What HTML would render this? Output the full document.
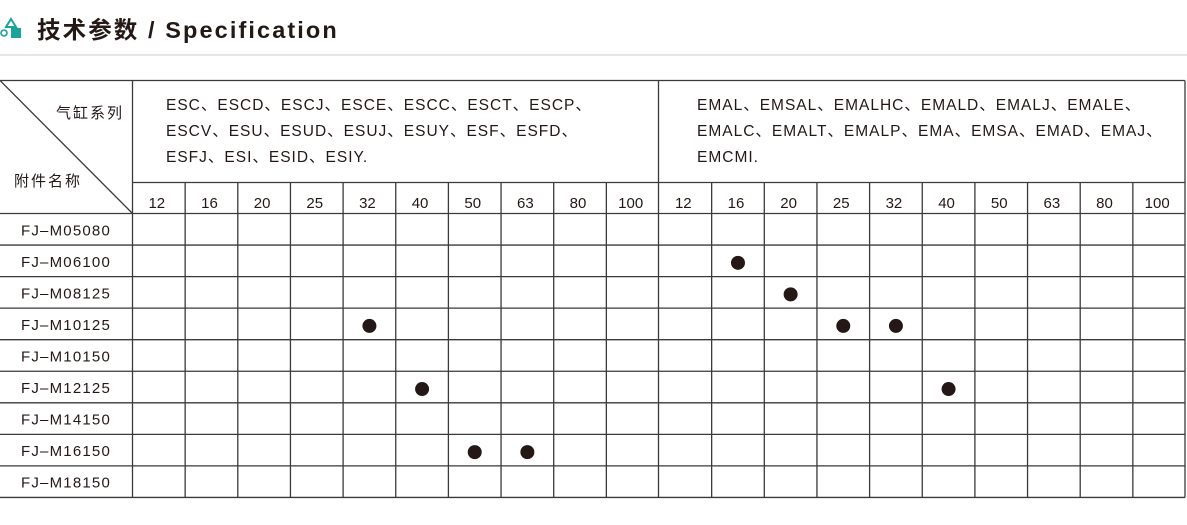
<!DOCTYPE html>
<html><head><meta charset="utf-8"><style>
body{margin:0;background:#fff;width:1187px;height:520px;overflow:hidden}
svg text{font-family:"Liberation Sans","Noto Sans CJK SC",sans-serif;fill:#231815}
</style></head><body>
<svg width="1187" height="520" viewBox="0 0 1187 520" xmlns="http://www.w3.org/2000/svg">
<polygon points="11,19 16,27 6,27" fill="none" stroke="#1aa39a" stroke-width="2"/>
<circle cx="4" cy="33" r="3" fill="none" stroke="#1aa39a" stroke-width="1.6"/>
<rect x="11" y="28" width="10" height="10" fill="#1aa39a"/>
<text x="37" y="38" font-size="23.5" font-weight="bold" letter-spacing="2.1">技术参数 / Specification</text>
<rect x="0" y="54" width="1187" height="2" fill="#e6e6e6"/>
<g stroke="#3a3a3a" stroke-width="1.3" fill="none">
<line x1="0" y1="80.5" x2="1185" y2="80.5"/>
<line x1="132.5" y1="182.5" x2="1185" y2="182.5"/>
<line x1="0" y1="80.5" x2="132.5" y2="213.5"/>
<line x1="132.5" y1="80.5" x2="132.5" y2="497.5"/>
<line x1="658.5" y1="80.5" x2="658.5" y2="497.5"/>
<line x1="1185" y1="80.5" x2="1185" y2="497.5"/>
</g>
<g id="g" stroke="#3a3a3a" stroke-width="1.3"></g>
<g id="t" font-size="15"></g>
<text x="124" y="118" font-size="15" text-anchor="end" letter-spacing="2">气缸系列</text>
<text x="14" y="186" font-size="15" letter-spacing="2">附件名称</text>
<g font-size="15.5" letter-spacing="1">
<text x="166" y="110">ESC、ESCD、ESCJ、ESCE、ESCC、ESCT、ESCP、</text>
<text x="166" y="136">ESCV、ESU、ESUD、ESUJ、ESUY、ESF、ESFD、</text>
<text x="166" y="162">ESFJ、ESI、ESID、ESIY.</text>
<text x="697" y="110">EMAL、EMSAL、EMALHC、EMALD、EMALJ、EMALE、</text>
<text x="697" y="136">EMALC、EMALT、EMALP、EMA、EMSA、EMAD、EMAJ、</text>
<text x="697" y="162">EMCMI.</text>
</g>
<g id="d" fill="#231815"></g>
</svg>
<script>
var ns="http://www.w3.org/2000/svg",g=document.getElementById('g'),t=document.getElementById('t'),d=document.getElementById('d');
function el(p,n,a,txt){var e=document.createElementNS(ns,n);for(var k in a)e.setAttribute(k,a[k]);if(txt)e.textContent=txt;p.appendChild(e);return e;}
var cw=52.65,x0=132.5,rh=31.55,y0=213.5;
var sizes=["12","16","20","25","32","40","50","63","80","100"];
for(var i=1;i<20;i++){if(i==10)continue;var x=x0+i*cw;el(g,'line',{x1:x,y1:182.5,x2:x,y2:497.5});}
for(var r=0;r<=9;r++){var y=y0+r*rh;el(g,'line',{x1:0,y1:y,x2:1185,y2:y});}
for(var i=0;i<20;i++){el(t,'text',{x:x0+(i+0.5)*cw-2,y:208,'text-anchor':'middle'},sizes[i%10]);}
var names=["FJ-M05080","FJ-M06100","FJ-M08125","FJ-M10125","FJ-M10150","FJ-M12125","FJ-M14150","FJ-M16150","FJ-M18150"];
for(var r=0;r<9;r++){el(t,'text',{x:66,y:y0+(r+0.5)*rh+6,'text-anchor':'middle','letter-spacing':'1.2'},names[r].replace('-','–'));}
var dots=[[1,11],[2,12],[3,4],[3,13],[3,14],[5,5],[5,15],[7,6],[7,7]];
dots.forEach(function(p){el(d,'circle',{cx:x0+(p[1]+0.5)*cw,cy:y0+(p[0]+0.5)*rh+2,r:7});});
</script>
</body></html>
